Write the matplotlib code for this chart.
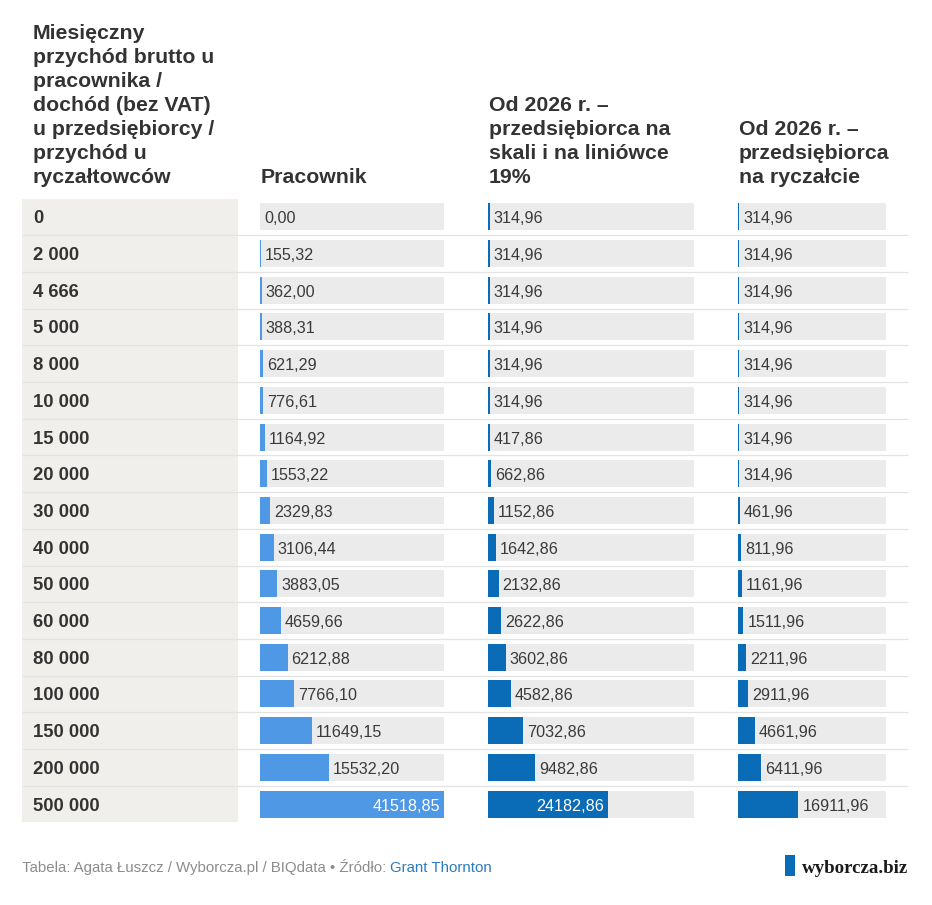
import matplotlib
matplotlib.use("Agg")
import matplotlib.pyplot as plt
from matplotlib.patches import Rectangle

# ---------------- data ----------------
row_labels = ["0", "2 000", "4 666", "5 000", "8 000", "10 000", "15 000", "20 000",
              "30 000", "40 000", "50 000", "60 000", "80 000", "100 000", "150 000",
              "200 000", "500 000"]
pracownik = [0.00, 155.32, 362.00, 388.31, 621.29, 776.61, 1164.92, 1553.22, 2329.83,
             3106.44, 3883.05, 4659.66, 6212.88, 7766.10, 11649.15, 15532.20, 41518.85]
skala_liniowka = [314.96, 314.96, 314.96, 314.96, 314.96, 314.96, 417.86, 662.86, 1152.86,
                  1642.86, 2132.86, 2622.86, 3602.86, 4582.86, 7032.86, 9482.86, 24182.86]
ryczalt = [314.96, 314.96, 314.96, 314.96, 314.96, 314.96, 314.96, 314.96, 461.96,
           811.96, 1161.96, 1511.96, 2211.96, 2911.96, 4661.96, 6411.96, 16911.96]

header_first = ["Miesięczny", "przychód brutto u", "pracownika /", "dochód (bez VAT)",
                "u przedsiębiorcy /", "przychód u", "ryczałtowców"]
col_headers = [["Pracownik"],
               ["Od 2026 r. –", "przedsiębiorca na", "skali i na liniówce", "19%"],
               ["Od 2026 r. –", "przedsiębiorca", "na ryczałcie"]]
series = [pracownik, skala_liniowka, ryczalt]
source_text = "Tabela: Agata Łuszcz / Wyborcza.pl / BIQdata • Źródło: "
source_link = "Grant Thornton"
logo_text = "wyborcza.biz"

# ---------------- style / layout ----------------
W, H = 932, 905
SANS = ["Liberation Sans", "DejaVu Sans"]
TXT = "#333333"
col_x = [260, 488, 738]
col_w = [184, 206, 148]
bar_colors = ["#4f98e5", "#0a6cb6", "#0a6cb6"]
bg_gray = "#ebebeb"
label_bg = "#f0efec"
row_top = 198.5
row_h = 36.7
bar_h = 27
vmax = max(max(s) for s in series)

fig = plt.figure(figsize=(W / 100, H / 100), dpi=100)
ax = fig.add_axes([0, 0, 1, 1])
ax.set_xlim(0, W)
ax.set_ylim(H, 0)
ax.axis("off")

n = len(row_labels)
centers = [row_top + row_h * (i + 0.5) for i in range(n)]

# label column background
ax.add_patch(Rectangle((22, row_top), 216, row_h * n, color=label_bg, zorder=0, lw=0))

# row separators
for i in range(1, n):
    y = row_top + row_h * i
    ax.plot([22, 908], [y, y], color="#e3e3e3", lw=0.9, zorder=0.5, solid_capstyle="butt")

# header texts
HFS = 15.3
for k, line in enumerate(header_first):
    ax.text(33, 39 + 24 * k, line, fontsize=HFS, fontweight="bold", color=TXT,
            family=SANS, va="baseline", ha="left")
for c, lines in enumerate(col_headers):
    base = 183 - 24 * (len(lines) - 1)
    for k, line in enumerate(lines):
        ax.text(col_x[c] + 1, base + 24 * k, line, fontsize=HFS, fontweight="bold",
                color=TXT, family=SANS, va="baseline", ha="left")

# row labels
for i, lab in enumerate(row_labels):
    ax.text(33, centers[i], lab, fontsize=13.3, fontweight="bold", color=TXT,
            family=SANS, va="center_baseline", ha="left")


def fmt(v):
    return f"{v:.2f}".replace(".", ",")


# bars
for c, vals in enumerate(series):
    ax.barh(centers, [col_w[c]] * n, left=col_x[c], height=bar_h, color=bg_gray,
            lw=0, zorder=1)
    widths = [v / vmax * col_w[c] for v in vals]
    ax.barh(centers, widths, left=col_x[c], height=bar_h, color=bar_colors[c],
            lw=0, zorder=2)
    for i, v in enumerate(vals):
        frac = v / vmax
        end = col_x[c] + widths[i]
        if frac > 0.5:
            ax.text(end - 4, centers[i] + 0.5, fmt(v), fontsize=11.6, color="white",
                    family=SANS, va="center_baseline", ha="right", zorder=3)
        else:
            ax.text(end + 4, centers[i] + 0.5, fmt(v), fontsize=11.6, color="#3a3a3a",
                    family=SANS, va="center_baseline", ha="left", zorder=3)

# footer
t1 = ax.text(22, 865, source_text, fontsize=10.8, color="#8c8c8c", family=SANS,
             va="center_baseline", ha="left")
ax.annotate(source_link, xy=(1, 0), xycoords=t1, fontsize=10.8, color="#2a7bbf",
            family=SANS, va="bottom", ha="left")

# logo
ax.add_patch(Rectangle((785, 855), 10, 21, color="#0a6cb6", lw=0))
ax.text(908, 866, logo_text, fontsize=13.6, fontweight="bold", color="#1a1a1a",
        family=["Liberation Serif", "DejaVu Serif"], va="center_baseline", ha="right")

fig.savefig("out.png", dpi=100, facecolor="white")
